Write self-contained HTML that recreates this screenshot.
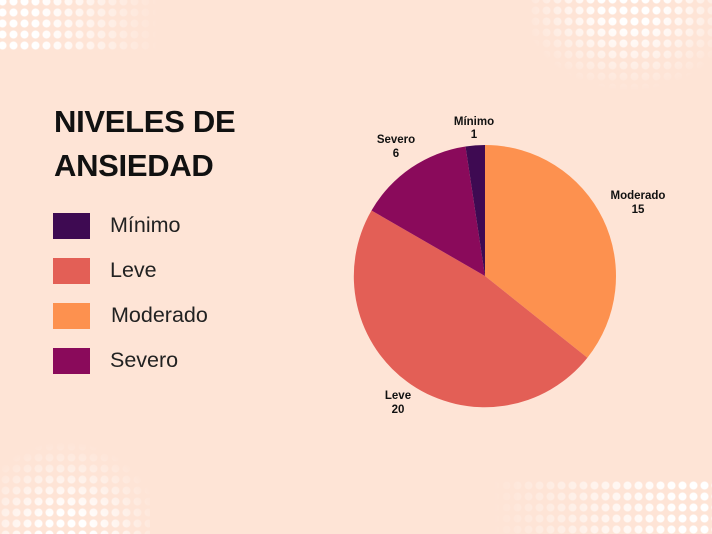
<!DOCTYPE html>
<html><head><meta charset="utf-8"><style>
body{margin:0;width:712px;height:534px;background:#fee4d6;position:relative;overflow:hidden;font-family:"Liberation Sans",sans-serif}
.d{position:absolute;background-image:radial-gradient(circle,#fff 0,#fff 3.5px,rgba(255,255,255,0) 4.5px);background-size:11px 11px}
#tl{left:0;top:-4px;width:160px;height:56px;background-position:-3px 0;-webkit-mask-image:linear-gradient(90deg,#000 20%,rgba(0,0,0,0) 100%)}
#tr{left:530px;top:-6px;width:182px;height:100px;-webkit-mask-image:radial-gradient(ellipse 110px 90px at 100px 8px,#000 25%,rgba(0,0,0,0) 100%)}
#bl{left:0;top:430px;width:150px;height:104px;-webkit-mask-image:radial-gradient(ellipse 100px 100px at 65px 110px,#000 25%,rgba(0,0,0,0) 100%)}
#br{left:490px;top:480px;width:222px;height:54px;-webkit-mask-image:linear-gradient(270deg,#000 15%,rgba(0,0,0,0) 100%)}
h1{position:absolute;left:54px;top:100px;margin:0;font-size:31px;line-height:44px;font-weight:bold;color:#111;letter-spacing:-0.3px}
.sq{position:absolute;left:53px;width:37px;height:26px}
.lt{position:absolute;left:110px;font-size:21.5px;color:#222}
.pl{font-family:"Liberation Sans",sans-serif;font-weight:bold;font-size:11.5px;fill:#111;text-anchor:middle}
</style></head><body>
<div class="d" id="tl"></div><div class="d" id="tr"></div><div class="d" id="bl"></div><div class="d" id="br"></div>
<h1>NIVELES DE<br>ANSIEDAD</h1>
<div class="sq" style="top:213px;background:#3e0a52"></div><div class="lt" style="top:213px">Mínimo</div>
<div class="sq" style="top:258px;background:#e35f56"></div><div class="lt" style="top:258px">Leve</div>
<div class="sq" style="top:303px;background:#fd914f"></div><div class="lt" style="top:303px;left:111px">Moderado</div>
<div class="sq" style="top:348px;background:#8a0a5b"></div><div class="lt" style="top:348px">Severo</div>
<svg width="712" height="534" style="position:absolute;left:0;top:0">
<path d="M485 276 L485 145 A131 131 0 0 1 587.4 357.7 Z" fill="#fd914f"/>
<path d="M485 276 L587.4 357.7 A131 131 0 0 1 371.5 210.5 Z" fill="#e35f56"/>
<path d="M485 276 L371.5 210.5 A131 131 0 0 1 465.5 146.5 Z" fill="#8a0a5b"/>
<path d="M485 276 L465.5 146.5 A131 131 0 0 1 485 145 Z" fill="#3e0a52"/>
<text class="pl" x="474" y="125">Mínimo</text><text class="pl" x="474" y="138">1</text>
<text class="pl" x="396" y="143">Severo</text><text class="pl" x="396" y="157">6</text>
<text class="pl" x="638" y="199">Moderado</text><text class="pl" x="638" y="213">15</text>
<text class="pl" x="398" y="399">Leve</text><text class="pl" x="398" y="413">20</text>
</svg>
</body></html>
